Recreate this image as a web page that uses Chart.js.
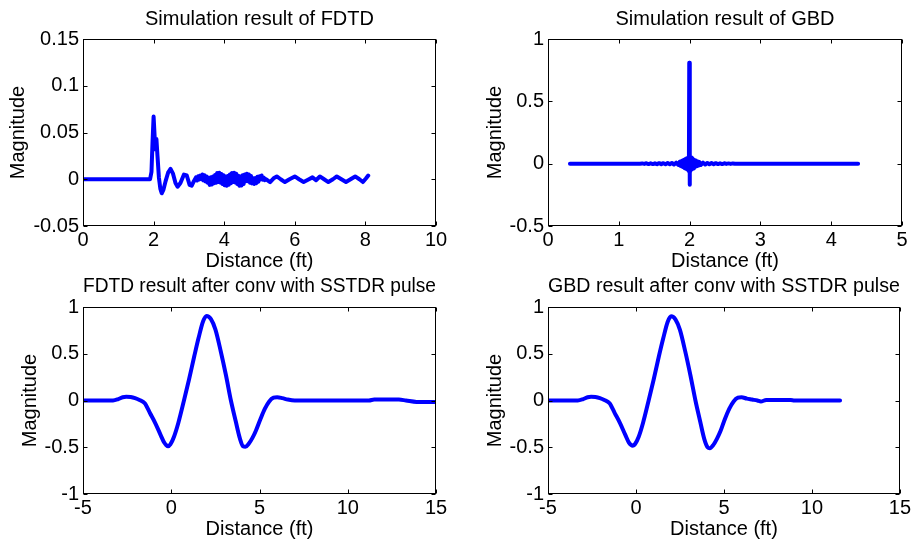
<!DOCTYPE html>
<html>
<head>
<meta charset="utf-8">
<script src="https://cdn.jsdelivr.net/npm/chart.js@4.4.1/dist/chart.umd.min.js"></script>
<style>
  html, body { margin: 0; padding: 0; background: #fff; }
  #wrap { position: relative; width: 913px; height: 542px; overflow: hidden; }
  canvas { position: absolute; }
</style>
</head>
<body>
<div id="wrap">
  <canvas id="fdtdChart" width="456" height="273" style="left:0;top:0"></canvas>
  <canvas id="gbdChart" width="457" height="273" style="left:456px;top:0"></canvas>
  <canvas id="fdtdConvChart" width="456" height="271" style="left:0;top:271px"></canvas>
  <canvas id="gbdConvChart" width="457" height="271" style="left:456px;top:271px"></canvas>
</div>
<script>
// --- data ---
const fdtdX = [0, 1.90, 1.94, 1.97, 2.00, 2.03, 2.05, 2.08, 2.11, 2.15, 2.19, 2.23, 2.28, 2.34, 2.41, 2.48, 2.55, 2.62, 2.68, 2.76, 2.86, 2.94, 3.02, 3.08, 3.14,
  3.20, 3.23, 3.26, 3.29, 3.32, 3.35, 3.38, 3.41, 3.44, 3.47, 3.50, 3.53, 3.56, 3.59, 3.62, 3.65, 3.68, 3.71, 3.74, 3.77,
  3.80, 3.83, 3.86, 3.89, 3.92, 3.95, 3.98, 4.01, 4.04, 4.07, 4.10, 4.13, 4.16, 4.19, 4.22, 4.25, 4.28, 4.31, 4.34, 4.37,
  4.40, 4.43, 4.46, 4.49, 4.52, 4.55, 4.58, 4.61, 4.64, 4.67, 4.70, 4.73, 4.76, 4.79, 4.82, 4.85, 4.88, 4.91, 4.94, 4.97,
  5.00, 5.03, 5.06, 5.09, 5.12, 5.15, 5.18,
  5.30, 5.40, 5.49, 5.60, 5.72, 5.85, 6.00, 6.12, 6.25, 6.40, 6.50, 6.60, 6.71, 6.83, 6.95, 7.08, 7.19, 7.32, 7.45, 7.58, 7.71, 7.83, 7.93, 8.02, 8.08];
const fdtdY = [0, 0, 0.008, 0.04, 0.067, 0.045, 0.032, 0.043, 0.025, 0.002, -0.010, -0.015, -0.011, -0.002, 0.007, 0.011, 0.006, -0.004, -0.008, -0.004, 0.005, 0.004, -0.006, -0.007, -0.002,
  0.002, -0.0014, 0.0032, -0.0003, 0.0039, 0.000, 0.005, -0.0012, 0.0043, -0.0023, 0.003, -0.0037, 0.0015, -0.006, 0.002, -0.0057, 0.003, -0.0043, 0.0045, -0.0037,
  0.0068, -0.003, 0.0069, -0.0036, 0.0056, -0.005, 0.0042, -0.0065, 0.003, -0.007, 0.0035, -0.0058, 0.005, -0.0042, 0.0066, -0.003, 0.007, -0.0035, 0.0058, -0.005,
  0.0038, -0.0069, 0.003, -0.0066, 0.0042, -0.005, 0.005, -0.0022, 0.006, -0.0022, 0.0051, -0.0037, 0.0034, -0.0044, 0.0011, -0.005, 0.0012, -0.0042, 0.0026, -0.0026,
  0.0033, -0.0001, 0.004, -0.0004, 0.0019, -0.001, 0.0002,
  -0.003, 0.001, 0.003, 0.000, -0.003, 0.000, 0.003, 0.000, -0.003, 0.000, 0.002, -0.001, 0.003, 0.000, -0.003, 0.000, 0.003, 0.000, -0.003, 0.000, 0.003, 0.000, -0.003, 0.001, 0.004];

const gbdX = [0.31, 1.30, 1.33, 1.36, 1.39, 1.42, 1.45, 1.48, 1.51, 1.54, 1.57, 1.60, 1.63, 1.66, 1.69, 1.72, 1.75, 1.78, 1.81, 1.84,
  1.86, 1.87, 1.88, 1.89, 1.90, 1.91, 1.92, 1.93, 1.94, 1.95, 1.96, 1.97, 1.98, 1.99, 1.995, 2.000, 2.005,
  2.01, 2.02, 2.03, 2.04, 2.05, 2.06, 2.07, 2.08, 2.09, 2.10, 2.11, 2.12, 2.13, 2.14, 2.16,
  2.19, 2.22, 2.25, 2.28, 2.31, 2.34, 2.37, 2.40, 2.43, 2.46, 2.49, 2.52, 2.55, 2.58, 2.61, 2.64, 2.70, 4.38];
const gbdY = [0, 0, 0.002, -0.002, 0.003, -0.003, 0.003, -0.003, 0.003, -0.004, 0.004, -0.004, 0.004, -0.005, 0.005, -0.005, 0.006, -0.007, 0.008, -0.010,
  0.015, -0.017, 0.020, -0.023, 0.026, -0.029, 0.032, -0.035, 0.038, -0.041, 0.044, -0.047, 0.050, -0.060, 0.810, -0.170, 0.080,
  -0.060, 0.050, -0.046, 0.042, -0.038, 0.034, -0.030, 0.026, -0.023, 0.020, -0.018, 0.016, -0.014, 0.012, -0.010,
  0.008, -0.007, 0.006, -0.005, 0.005, -0.004, 0.004, -0.003, 0.003, -0.003, 0.003, -0.002, 0.002, -0.002, 0.002, -0.001, 0, 0];

const fdtdConvX = [-5, -3.3, -3.0, -2.75, -2.55, -2.3, -2.05, -1.8, -1.5, -1.2, -0.9, -0.6, -0.4, -0.28, -0.18, -0.05, 0.15, 0.4, 0.72, 1.0, 1.3, 1.55, 1.8, 2.0, 2.25, 2.5, 2.8, 3.1, 3.38, 3.65, 3.88, 4.07, 4.2, 4.4, 4.6, 4.8, 5.05, 5.3, 5.55, 5.8, 6.0, 6.3, 6.6, 7.0, 11.2, 11.5, 12.9, 13.3, 13.9, 15];
const fdtdConvY = [0, 0, 0.015, 0.035, 0.04, 0.037, 0.025, 0.005, -0.03, -0.137, -0.244, -0.37, -0.45, -0.478, -0.49, -0.47, -0.39, -0.24, 0.0, 0.22, 0.47, 0.67, 0.845, 0.905, 0.87, 0.76, 0.53, 0.27, 0.0, -0.22, -0.4, -0.49, -0.495, -0.46, -0.4, -0.32, -0.2, -0.09, -0.01, 0.03, 0.035, 0.025, 0.01, 0, 0, 0.01, 0.01, 0, -0.015, -0.015];

const gbdConvX = [-5, -3.3, -3.0, -2.75, -2.55, -2.3, -2.05, -1.8, -1.5, -1.2, -0.9, -0.6, -0.4, -0.28, -0.18, -0.05, 0.15, 0.4, 0.72, 1.0, 1.3, 1.55, 1.8, 2.0, 2.25, 2.5, 2.8, 3.1, 3.38, 3.65, 3.88, 4.07, 4.2, 4.4, 4.6, 4.8, 5.05, 5.3, 5.55, 5.8, 6.0, 6.3, 6.6, 6.9, 7.1, 7.4, 8.8, 9.0, 11.6];
const gbdConvY = [0, 0, 0.015, 0.035, 0.04, 0.037, 0.025, 0.005, -0.03, -0.137, -0.244, -0.37, -0.45, -0.475, -0.485, -0.465, -0.39, -0.24, 0.0, 0.22, 0.47, 0.665, 0.84, 0.9, 0.865, 0.755, 0.525, 0.265, 0.0, -0.225, -0.41, -0.5, -0.51, -0.475, -0.41, -0.33, -0.2, -0.09, -0.01, 0.03, 0.035, 0.02, 0.01, 0, -0.01, 0.005, 0.005, 0, 0];

// tick values
const fdtdXTicks = [0, 2, 4, 6, 8, 10];
const fdtdYTicks = [-0.05, 0, 0.05, 0.1, 0.15];
const gbdXTicks = [0, 1, 2, 3, 4, 5];
const gbdYTicks = [-0.5, 0, 0.5, 1];
const convXTicks = [-5, 0, 5, 10, 15];
const convYTicks = [-1, -0.5, 0, 0.5, 1];

const titles = [
    'Simulation result of FDTD',
    'Simulation result of GBD',
    'FDTD result after conv with SSTDR pulse',
    'GBD result after conv with SSTDR pulse'
];
const xLabel = 'Distance (ft)';
const yLabel = 'Magnitude';

Chart.defaults.font.family = "'Liberation Sans', Arial, sans-serif";
Chart.defaults.color = '#000';

// matlab-style box with inward ticks on all sides
const boxTicks = {
    id: 'boxTicks',
    afterDraw(chart) {
        const {ctx, chartArea: a, scales} = chart;
        const L = Math.round(a.left) + 0.5, R = Math.round(a.right) - 0.5,
            T = Math.round(a.top) + 0.5, B = Math.round(a.bottom) - 0.5;
        ctx.save();
        ctx.strokeStyle = '#000';
        ctx.lineWidth = 1;
        ctx.beginPath();
        scales.x.ticks.forEach(t => {
            const p = Math.round(scales.x.getPixelForValue(t.value)) + 0.5;
            ctx.moveTo(p, B); ctx.lineTo(p, B - 4);
            ctx.moveTo(p, T); ctx.lineTo(p, T + 4);
        });
        scales.y.ticks.forEach(t => {
            const p = Math.round(scales.y.getPixelForValue(t.value)) + 0.5;
            ctx.moveTo(L, p); ctx.lineTo(L + 4, p);
            ctx.moveTo(R, p); ctx.lineTo(R - 4, p);
        });
        ctx.stroke();
        ctx.strokeRect(L, T, R - L, B - T);
        ctx.restore();
    }
};

const toPoints = (xs, ys) => xs.map((x, i) => ({x, y: ys[i]}));

const makeChart = (id, o) => {
    const font = {size: 20};
    return new Chart(document.getElementById(id), {
        type: 'line',
        data: {
            datasets: [{
                data: toPoints(o.xs, o.ys),
                borderColor: '#0000ff',
                borderWidth: 4,
                borderCapStyle: 'round',
                borderJoinStyle: 'round',
                pointRadius: 0,
                tension: 0,
                cubicInterpolationMode: o.smooth ? 'monotone' : 'default',
                fill: false
            }]
        },
        options: {
            responsive: false,
            animation: false,
            devicePixelRatio: 1,
            layout: {padding: {left: o.padLeft, right: o.padRight, top: 0, bottom: 0}},
            plugins: {
                legend: {display: false},
                tooltip: {enabled: false},
                title: {
                    display: true,
                    text: o.title,
                    fullSize: false,
                    color: '#000',
                    font: {size: 20, weight: 'normal'},
                    padding: o.titlePad
                }
            },
            scales: {
                x: {
                    type: 'linear',
                    min: o.xTicks[0],
                    max: o.xTicks[o.xTicks.length - 1],
                    afterBuildTicks: s => { s.ticks = o.xTicks.map(v => ({value: v})); },
                    afterFit: s => { s.height = o.xHeight; },
                    grid: {display: false, drawTicks: false},
                    border: {display: false},
                    ticks: {font, padding: 2, maxRotation: 0, autoSkip: false, callback: v => String(v)},
                    title: {display: true, text: xLabel, font, padding: {top: 0, bottom: o.xTitlePad}}
                },
                y: {
                    type: 'linear',
                    min: o.yTicks[0],
                    max: o.yTicks[o.yTicks.length - 1],
                    afterBuildTicks: s => { s.ticks = o.yTicks.map(v => ({value: v})); },
                    afterFit: s => { s.width = o.yWidth; },
                    grid: {display: false, drawTicks: false},
                    border: {display: false},
                    ticks: {font, padding: 4, autoSkip: false, callback: v => String(v)},
                    title: {display: true, text: yLabel, font, padding: {top: 6, bottom: 0}}
                }
            }
        },
        plugins: [boxTicks]
    });
};

makeChart('fdtdChart', {
    xs: fdtdX, ys: fdtdY, xTicks: fdtdXTicks, yTicks: fdtdYTicks, title: titles[0],
    padLeft: 0, padRight: 20, yWidth: 83, xHeight: 47, xTitlePad: 0,
    titlePad: {top: 7.5, bottom: 7.5}
});
makeChart('gbdChart', {
    xs: gbdX, ys: gbdY, xTicks: gbdXTicks, yTicks: gbdYTicks, title: titles[1],
    padLeft: 21, padRight: 11, yWidth: 71, xHeight: 47, xTitlePad: 0,
    titlePad: {top: 7.5, bottom: 7.5}
});
makeChart('fdtdConvChart', {
    xs: fdtdConvX, ys: fdtdConvY, xTicks: convXTicks, yTicks: convYTicks, title: titles[2], smooth: true,
    padLeft: 12, padRight: 20, yWidth: 71, xHeight: 48, xTitlePad: 1,
    titlePad: {top: 3, bottom: 9}
});
makeChart('gbdConvChart', {
    xs: gbdConvX, ys: gbdConvY, xTicks: convXTicks, yTicks: convYTicks, title: titles[3], smooth: true,
    padLeft: 21, padRight: 11, yWidth: 71, xHeight: 48, xTitlePad: 1,
    titlePad: {top: 3, bottom: 9}
});
</script>
</body>
</html>
